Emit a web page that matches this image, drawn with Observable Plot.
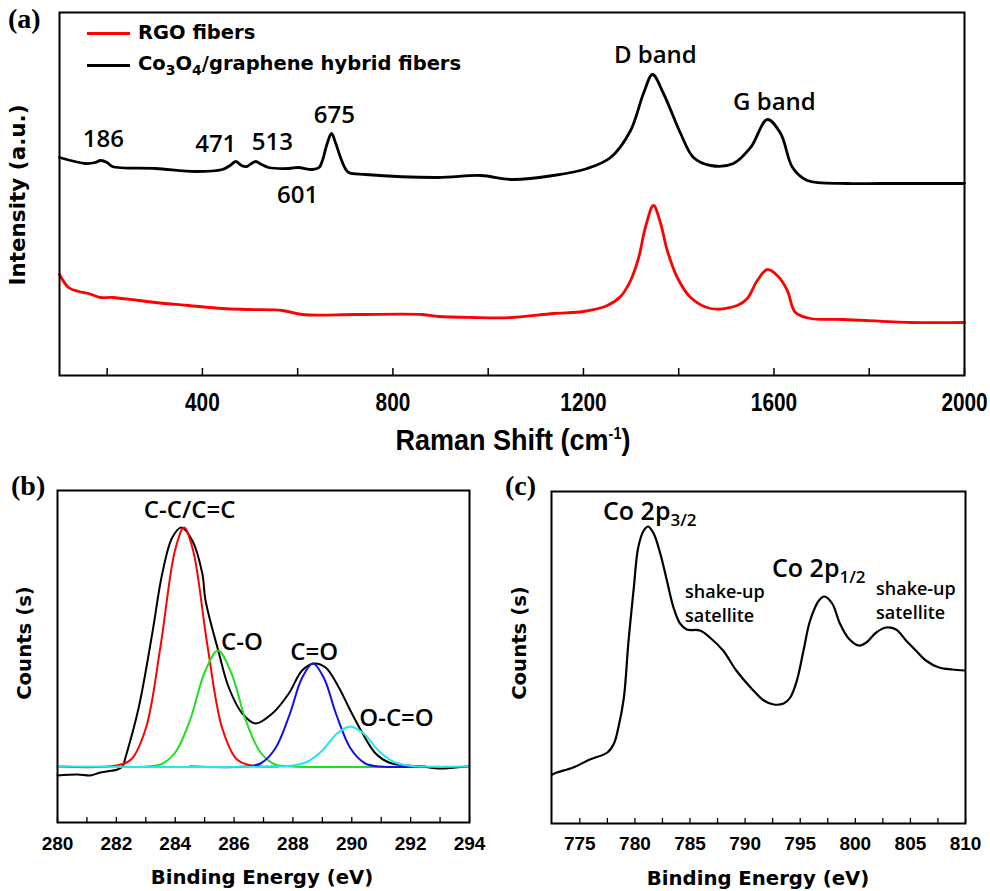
<!DOCTYPE html>
<html><head><meta charset="utf-8">
<script src="https://cdn.jsdelivr.net/npm/d3@7"></script>
<script src="https://cdn.jsdelivr.net/npm/@observablehq/plot@0.6"></script>
<style>
body{margin:0;background:#fff;}
#wrap{position:relative;width:990px;height:891px;overflow:hidden;background:#fff;}
.panel{position:absolute;}
.t{position:absolute;white-space:nowrap;color:#000;line-height:1;}
.ann{font-family:"Open Sans";font-weight:600;}
.ax{font-family:"DejaVu Sans";font-weight:bold;font-size:19.7px;}
.rot{transform:translate(-50%,-50%) rotate(-90deg);}
.ctr{transform:translate(-50%,-50%);}
.vc{transform:translateY(-50%);}
.letter{font-family:"Liberation Serif";font-weight:bold;font-size:28px;}
.leg{font-family:"DejaVu Sans";font-weight:bold;font-size:19.5px;}
</style></head><body><div id="wrap"></div>
<script>
// ---------- Panel (a): Raman spectra ----------
const ramanShiftHybrid = [100,155,175,186,200,211,302,386,442,458,470,482,493,503,512,524,539,581,601,631,645,652,662,671,680,690,700,707,742,894,984,1051,1137,1208,1257,1299,1326,1345,1368,1404,1431,1467,1515,1551,1586,1614,1639,1670,1754,1824,2000];
const intensityHybrid = [218,212,213,215,213,209,207,204,206,210,214,210,209,212,214,211,208,207,208,206,208,215,232,242,232,218,207,203,201,198,200,196,200,207,218,245,282,301,282,242,218,210,212,228,256,242,208,195,192,192,192];
const ramanShiftRGO = [100,119,140,161,186,211,266,302,371,442,497,568,610,721,862,896,967,1051,1137,1200,1250,1278,1299,1316,1330,1347,1362,1376,1397,1425,1467,1523,1544,1565,1586,1609,1628,1645,1677,1746,1887,2000];
const intensityRGO = [101,88,84,82,78,78,75,73,70,67,66,65,61,61,61,59,58,58,62,64,70,79,95,118,148,170,152,125,98,78,67,70,77,95,106,99,85,63,57,56,53,53];
const ramanTicks = [200,400,600,800,1000,1200,1400,1600,1800,2000];
const ramanTickLabels = [400,800,1200,1600,2000];
const ramanPeakLabels = ["186","471","513","601","675","D band","G band"];
const ramanPeakLabelX = [192,428,547,600,677,1351,1601];
const ramanPeakLabelY = [236,231,233,180,260,320,273];

// ---------- Panel (b): C 1s XPS ----------
const c1sEnergy = [280,280.68,281.12,281.46,282.04,282.21,282.31,282.76,283.22,283.56,283.9,284.21,284.58,284.92,285.03,285.48,285.82,286.28,286.73,287.3,287.86,288.31,288.71,289.11,289.56,289.9,290.35,290.81,291.26,291.82,292.39,292.96,293.52,294];
const c1sCounts = [-9,-8,-9,-6,-3,0,9,59,133,193,229,239,226,193,166,114,79,53,43,53,73,96,103,99,79,59,34,13,4,1,0,-2,-1,0];
const ccEnergy = [280,282,282.5,283,283.5,284,284.3,284.6,285.1,285.6,286.1,286.6,287.5];
const ccCounts = [0,1,7,38,120,217,239,217,120,38,7,1,0];
const coEnergy = [282,283.5,284,284.5,285,285.45,285.9,286.4,286.9,287.4,288,292];
const coCounts = [0,2,14,46,94,116,94,46,14,2,0,0];
const c2oEnergy = [284.5,286.4,286.9,287.4,287.9,288.3,288.68,289.06,289.46,289.96,290.46,290.96,292.5];
const c2oCounts = [0,0,3,18,53,88,103,88,53,18,3,0,0];
const occoEnergy = [280,287.5,288,288.5,289,289.5,289.95,290.4,290.9,291.4,291.9,292.4,294];
const occoCounts = [0,0,1,5,16,33,40,33,16,5,1,0,0];
const c1sTicks = [280,281,282,283,284,285,286,287,288,289,290,291,292,293,294];
const c1sTickLabels = [280,282,284,286,288,290,292,294];
const c1sLabels = ["C-C/C=C","C-O","C=O","O-C=O"];
const c1sLabelX = [284.49,286.27,288.72,291.52];
const c1sLabelY = [256,124,114,48];

// ---------- Panel (c): Co 2p XPS ----------
const co2pEnergy = [772.5,772.9,774.4,775.9,777.5,778.1,778.5,779.0,779.4,779.9,780.3,780.8,781.2,781.7,782.3,782.9,783.5,784.1,784.7,785.9,786.8,788.0,789.2,790.5,791.7,792.6,793.5,794.1,794.7,795.3,795.9,796.7,797.2,797.9,798.6,799.4,800.3,801.0,801.9,802.8,803.7,804.6,805.5,806.4,807.6,808.8,809.9];
const co2pCounts = [49,51,56,64,71,80,96,126,180,236,276,293,297,290,270,243,216,200,194,193,186,173,153,136,123,119,120,126,143,173,203,223,227,220,200,185,178,181,191,196,194,183,173,163,156,154,153];
const co2pTicks = [775,777.5,780,782.5,785,787.5,790,792.5,795,797.5,800,802.5,805,807.5,810];
const co2pTickLabels = [775,780,785,790,795,800,805,810];

// ---------- build ----------
const zip = (xs, ys) => xs.map((x, i) => ({x, y: ys[i]}));
const wrap = document.getElementById("wrap");
function place(el, left, top) {
  const d = document.createElement("div");
  d.className = "panel"; d.style.left = left + "px"; d.style.top = top + "px";
  d.appendChild(el); wrap.appendChild(d);
}
function txt(html, cls, left, top, extra) {
  const d = document.createElement("div");
  d.className = "t " + cls; d.innerHTML = html;
  d.style.left = left + "px"; d.style.top = top + "px";
  if (extra) Object.assign(d.style, extra);
  wrap.appendChild(d); return d;
}
function squeezeTickText(svg, k) {
  d3.select(svg).selectAll('g[aria-label="x-axis tick label"] text').each(function () {
    const t = this.getAttribute("transform");
    if (t) this.setAttribute("transform", t + ` scale(${k},1)`);
    else {
      const x = +this.getAttribute("x") || 0;
      this.setAttribute("transform", `translate(${x},0) scale(${k},1) translate(${-x},0)`);
    }
  });
}

const annFont = {fontFamily: "Open Sans", fontWeight: 600, fill: "#000"};
const plain = (d) => String(d);

const plotA = Plot.plot({
  width: 990, height: 460,
  marginLeft: 59, marginRight: 26, marginTop: 12, marginBottom: 85,
  x: {domain: [100, 2000], label: null},
  y: {domain: [0, 363], axis: null, label: null},
  marks: [
    Plot.line(zip(ramanShiftRGO, intensityRGO), {x: "x", y: "y", stroke: "#ff0000", strokeWidth: 2.8, curve: "catmull-rom"}),
    Plot.line(zip(ramanShiftHybrid, intensityHybrid), {x: "x", y: "y", stroke: "#000", strokeWidth: 2.8, curve: "catmull-rom"}),
    Plot.axisX({ticks: ramanTicks, tickSize: -7, tickFormat: () => "", strokeWidth: 1.5, label: null}),
    Plot.axisX({ticks: ramanTickLabels, tickSize: 0, tickPadding: 27, lineAnchor: "middle", label: null, tickFormat: plain,
      fontSize: 26, fontFamily: "Liberation Sans", fontWeight: "bold", fill: "#000"}),
    Plot.frame({stroke: "#000", strokeWidth: 2}),
    Plot.text(ramanPeakLabels.map((t, i) => ({t, x: ramanPeakLabelX[i], y: ramanPeakLabelY[i]})),
      {x: "x", y: "y", text: "t", fontSize: 24, ...annFont})
  ]
});
squeezeTickText(plotA, 0.8);
place(plotA, 0, 0);

const plotB = Plot.plot({
  width: 495, height: 421,
  marginLeft: 57, marginRight: 26, marginTop: 20, marginBottom: 69,
  x: {domain: [280, 294], label: null},
  y: {domain: [-56, 276], axis: null, label: null},
  marks: [
    Plot.line(zip(c1sEnergy, c1sCounts), {x: "x", y: "y", stroke: "#000", strokeWidth: 2, curve: "catmull-rom"}),
    Plot.line(zip(ccEnergy, ccCounts), {x: "x", y: "y", stroke: "#ff0000", strokeWidth: 2, curve: "catmull-rom"}),
    Plot.line(zip(coEnergy, coCounts), {x: "x", y: "y", stroke: "#1ee01e", strokeWidth: 2, curve: "catmull-rom"}),
    Plot.line(zip(c2oEnergy, c2oCounts), {x: "x", y: "y", stroke: "#1010e8", strokeWidth: 2, curve: "catmull-rom"}),
    Plot.line(zip(occoEnergy, occoCounts), {x: "x", y: "y", stroke: "#20e8f0", strokeWidth: 2, curve: "catmull-rom"}),
    Plot.axisX({ticks: c1sTicks, tickSize: -5, tickFormat: () => "", strokeWidth: 1.3, label: null}),
    Plot.axisX({ticks: c1sTickLabels, tickSize: 0, tickPadding: 21, lineAnchor: "middle", label: null, tickFormat: plain,
      fontSize: 19, fontFamily: "Liberation Sans", fontWeight: "bold", fill: "#000"}),
    Plot.frame({stroke: "#000", strokeWidth: 2}),
    Plot.text(c1sLabels.map((t, i) => ({t, x: c1sLabelX[i], y: c1sLabelY[i]})),
      {x: "x", y: "y", text: "t", fontSize: 24, ...annFont})
  ]
});
place(plotB, 0, 470);

const plotC = Plot.plot({
  width: 495, height: 421,
  marginLeft: 56, marginRight: 25, marginTop: 21, marginBottom: 68,
  x: {domain: [772.43, 810], label: null},
  y: {domain: [0, 332], axis: null, label: null},
  marks: [
    Plot.line(zip(co2pEnergy, co2pCounts), {x: "x", y: "y", stroke: "#000", strokeWidth: 2.2, curve: "catmull-rom"}),
    Plot.axisX({ticks: co2pTicks, tickSize: -5, tickFormat: () => "", strokeWidth: 1.3, label: null}),
    Plot.axisX({ticks: co2pTickLabels, tickSize: 0, tickPadding: 20, lineAnchor: "middle", label: null, tickFormat: plain,
      fontSize: 19, fontFamily: "Liberation Sans", fontWeight: "bold", fill: "#000"}),
    Plot.frame({stroke: "#000", strokeWidth: 2})
  ]
});
place(plotC, 495, 470);

// ---------- overlay text ----------
txt("(a)", "letter", 8, 5);
txt("(b)", "letter", 11, 472);
txt("(c)", "letter", 505, 472);

// legend (a)
const l1 = document.createElement("div");
Object.assign(l1.style, {position: "absolute", left: "87px", top: "32px", width: "43px", height: "2.5px", background: "#ff0000"});
wrap.appendChild(l1);
const l2 = document.createElement("div");
Object.assign(l2.style, {position: "absolute", left: "87px", top: "64px", width: "43px", height: "2.5px", background: "#000"});
wrap.appendChild(l2);
txt("RGO fibers", "leg vc", 138, 33);
txt('Co<span style="font-size:14px;position:relative;top:5px">3</span>O<span style="font-size:14px;position:relative;top:5px">4</span>/graphene hybrid fibers', "leg vc", 138, 64);

// axis titles
txt("Intensity (a.u.)", "ax rot", 18, 195, {fontSize: "21.5px"});
txt('Raman Shift (cm<span style="font-size:16px;position:relative;top:-11px">-1</span>)', "", 513, 440,
  {fontFamily: "Liberation Sans", fontWeight: "bold", fontSize: "30px", transform: "translate(-50%,-50%) scaleX(0.9)"});
txt("Counts (s)", "ax rot", 25, 643);
txt("Counts (s)", "ax rot", 520, 643);
txt("Binding Energy (eV)", "ax ctr", 262, 878);
txt("Binding Energy (eV)", "ax ctr", 758, 879);

// panel (c) annotations
txt('Co 2p<span style="font-size:17px;position:relative;top:6px">3/2</span>', "ann vc", 603, 510, {fontSize: "25px"});
txt('Co 2p<span style="font-size:17px;position:relative;top:6px">1/2</span>', "ann vc", 772, 567, {fontSize: "25px"});
txt("shake-up<br>satellite", "ann", 685, 579, {fontSize: "18px", lineHeight: "24px"});
txt("shake-up<br>satellite", "ann", 876, 576, {fontSize: "18px", lineHeight: "24px"});
</script>
</body></html>
